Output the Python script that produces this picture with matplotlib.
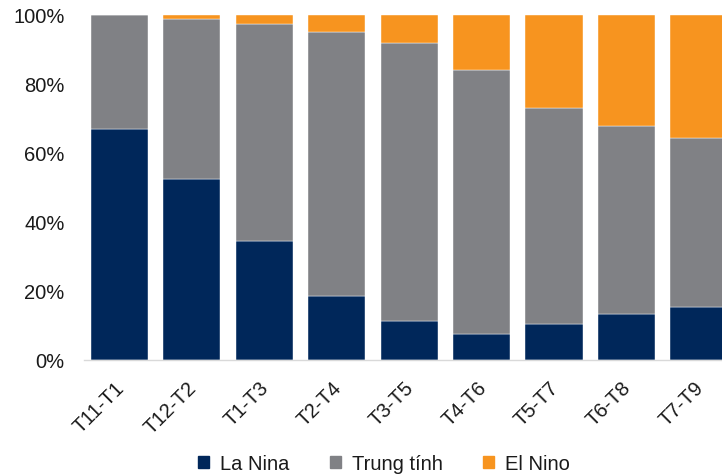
import matplotlib
matplotlib.use('Agg')
from matplotlib import pyplot as plt
from matplotlib.patches import Patch
import numpy as np

plt.rcParams['font.family'] = ['Liberation Sans', 'DejaVu Sans']

periods = ['T11-T1', 'T12-T2', 'T1-T3', 'T2-T4', 'T3-T5', 'T4-T6', 'T5-T7', 'T6-T8', 'T7-T9']
la_nina = [67, 52.5, 34.5, 18.5, 11.5, 7.5, 10.5, 13.5, 15.5]
el_nino = [0, 1, 2.5, 5, 8, 16, 27, 32, 35.5]
neutral = [100 - a - b for a, b in zip(la_nina, el_nino)]

NAVY = '#00275A'
GRAY = '#808185'
ORANGE = '#F7941F'
TEXT = '#1a1a1a'
FS = 14.5

fig = plt.figure(figsize=(7.22, 4.76), dpi=100)
ax = fig.add_axes([0.1163, 0.243, 0.8837, 0.725])

x = np.arange(len(periods))
w = 0.79
ax.bar(x, la_nina, w, color=NAVY, edgecolor='#ffffff', linewidth=0.3)
ax.bar(x, neutral, w, bottom=la_nina, color=GRAY, edgecolor='#ffffff', linewidth=0.3)
ax.bar(x, el_nino, w, bottom=np.array(la_nina) + np.array(neutral), color=ORANGE,
       edgecolor='#ffffff', linewidth=0.3)

ax.set_xlim(-0.49, 8.32)
ax.set_ylim(0, 100)
ax.set_yticks(range(0, 101, 20))
ax.set_yticklabels([f'{v}%' for v in range(0, 101, 20)], fontsize=FS, color=TEXT)
# labels sit slightly left of bar centres, as in the source
ax.set_xticks(x - 0.07)
ax.set_xticklabels(periods, rotation=45, ha='right', rotation_mode='anchor',
                   fontsize=FS, color=TEXT)
ax.tick_params(axis='both', length=0)
ax.tick_params(axis='y', pad=14)
ax.tick_params(axis='x', pad=13)

for s in ['top', 'right', 'left']:
    ax.spines[s].set_visible(False)
ax.spines['bottom'].set_color('#d9d9d9')
ax.spines['bottom'].set_linewidth(1.0)

handles = [Patch(color=NAVY, label='La Nina'),
           Patch(color=GRAY, label='Trung tính'),
           Patch(color=ORANGE, label='El Nino')]
fig.legend(handles=handles, loc='center', bbox_to_anchor=(384 / 722, 1 - 464 / 476),
           ncol=3, frameon=False, fontsize=FS, handlelength=0.55, handleheight=0.55,
           handletextpad=0.55, columnspacing=2.0, labelcolor=TEXT)

fig.savefig('out.png', dpi=100)
